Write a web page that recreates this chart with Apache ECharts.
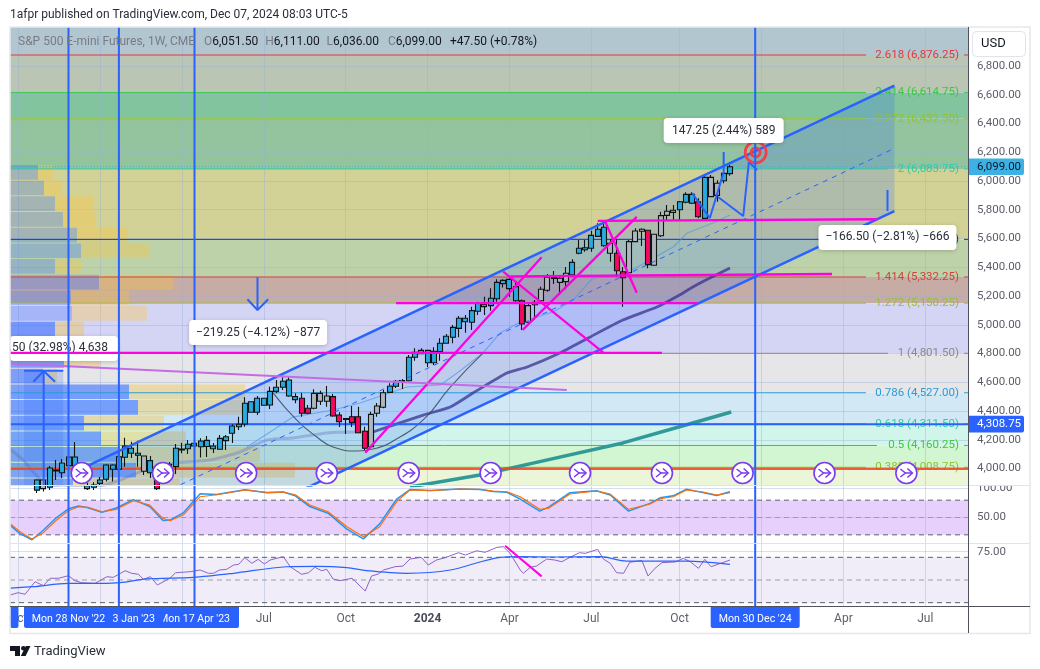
<!DOCTYPE html>
<html>
<head>
<meta charset="utf-8">
<title>S&amp;P 500 E-mini Futures, 1W</title>
<script src="https://cdn.jsdelivr.net/npm/echarts@6/dist/echarts.min.js"></script>
<style>
  html, body { margin: 0; padding: 0; background: #fff; overflow: hidden; }
  #chart { width: 1040px; height: 669px; }
</style>
</head>
<body>
<div id="chart"></div>
<script>
// Weekly candles: [week, open, close, low, high]. Week 0 is Mon 3 Oct 2022
const candles = [
  [3,3850,3920,3830,3925],[4,3860,3920,3840,3925],[5,3870,4004,3850,4018],[6,3983,3990,3920,4059],
  [7,3971,4038,3934,4066],[8,4020,4080,3990,4115],[9,4018,4080,3976,4185],[10,4020,3950,3930,4040],
  [11,3860,3880,3850,3900],[12,3870,3885,3850,3905],[13,3897,3920,3885,3941],[14,3925,4025,3909,4030],
  [15,3995,4025,3909,4030],[16,3995,4082,3983,4117],[17,4078,4157,4013,4214],[18,4106,4141,4073,4187],
  [19,4092,4106,4013,4194],[20,3981,4087,3955,4090],[21,3971,4055,3934,4087],[22,3920,3860,3850,3930],
  [23,3910,3980,3900,4000],[24,3960,4030,3950,4045],[25,4013,4141,3962,4171],[26,4130,4136,4106,4180],
  [27,4138,4169,4101,4199],[28,4157,4176,4082,4203],[29,4152,4191,4077,4210],[30,4153,4196,4080,4226],
  [31,4138,4157,4108,4178],[32,4134,4210,4130,4233],[33,4194,4221,4129,4233],[34,4245,4296,4178,4308],
  [35,4291,4308,4268,4360],[36,4310,4454,4291,4496],[37,4391,4465,4389,4467],[38,4391,4489,4372,4505],
  [39,4440,4489,4436,4493],[40,4442,4537,4414,4569],[41,4537,4565,4523,4616],[42,4565,4607,4546,4635],
  [43,4504,4616,4500,4637],[44,4479,4500,4454,4523],[45,4489,4384,4360,4527],[46,4419,4384,4378,4442],
  [47,4419,4523,4412,4551],[48,4468,4523,4442,4541],[49,4468,4505,4430,4574],[50,4500,4365,4360,4518],
  [51,4372,4326,4289,4391],[52,4342,4348,4240,4352],[53,4360,4319,4289,4435],[54,4360,4249,4245,4430],
  [55,4259,4141,4129,4291],[56,4152,4377,4141,4395],[57,4384,4435,4360,4456],[58,4426,4527,4420,4546],
  [59,4530,4572,4525,4593],[60,4572,4607,4560,4616],[61,4605,4612,4553,4623],[62,4611,4774,4605,4790],
  [63,4774,4809,4750,4836],[64,4799,4822,4795,4836],[65,4736,4822,4706,4825],[66,4736,4815,4720,4843],
  [67,4813,4871,4750,4906],[68,4871,4920,4868,4936],[69,4913,4982,4871,4998],[70,4975,5045,4913,5061],
  [71,5021,5045,4945,5068],[72,5017,5098,4964,5126],[73,5094,5149,5068,5160],[74,5126,5142,5068,5195],
  [75,5133,5184,5098,5254],[76,5181,5295,5160,5316],[77,5286,5309,5260,5316],[78,5251,5316,5195,5323],
  [79,5167,5265,5160,5300],[80,5167,5005,4964,5175],[81,5017,5133,5005,5144],[82,5139,5156,5038,5172],
  [83,5167,5247,5160,5265],[84,5240,5330,5230,5353],[85,5322,5328,5283,5374],[86,5295,5323,5207,5330],
  [87,5300,5358,5247,5402],[88,5348,5434,5332,5455],[89,5497,5532,5490,5590],[90,5522,5536,5508,5590],
  [91,5532,5622,5508,5654],[92,5615,5664,5610,5706],[93,5550,5678,5543,5717],[94,5497,5566,5439,5594],
  [95,5497,5376,5334,5594],[96,5369,5327,5126,5400],[97,5362,5578,5355,5590],[98,5578,5652,5575,5671],
  [99,5650,5664,5548,5671],[100,5657,5418,5393,5660],[101,5414,5629,5410,5632],[102,5619,5759,5610,5786],
  [103,5761,5789,5729,5833],[104,5782,5796,5729,5833],[105,5800,5856,5729,5860],[106,5852,5907,5845,5921],
  [107,5845,5907,5840,5921],[108,5856,5751,5740,5880],[109,5740,6025,5735,6042],[110,5891,6025,5888,6042],
  [111,5900,5984,5856,6005],[112,6002,6053,5984,6065],[113,6051.5,6099,6036,6111]
];
const greyWeeks = [4,20,47,48,49,56,57,58,81,82,83,84,85,86,87,94,97,98,99,101,102,103,104,110,111];

// Fibonacci levels, top to bottom
const fibNames = ['2.618','2.414','2.272','2','1.618','1.414','1.272','1','0.786','0.618','0.5','0.382'];
const fibPrices = [6876.25,6614.75,6432.5,6083.75,5593.75,5332.25,5150.25,4801.5,4527,4311.5,4160.25,4008.75];
const fibColors = ['#e5373b','#3bc93f','#94c22e','#2ccda4','#2233bb','#d04040','#94c22e','#8a8a8a','#2a9bd8','#2ccda4','#3bc93f','#94c22e'];
const bandColors = ['rgb(178,198,208)','rgb(186,197,180)','rgb(130,196,158)','rgb(148,196,158)','rgb(210,210,150)',
  'rgb(190,210,170)','rgb(198,172,165)','rgb(212,212,245)','rgb(230,230,232)','rgb(210,232,245)','rgb(210,245,235)',
  'rgb(210,245,210)','rgb(235,245,215)'];

const priceTicks = [4000,4200,4400,4600,4800,5000,5200,5400,5600,5800,6000,6200,6400,6600,6800];
const timeWeeks = [0,13,26,39,52,65,78,91,105,118,131,144];
const timeLabels = ['Oct','Jan','Apr','Jul','Oct','2024','Apr','Jul','Oct','2025','Apr','Jul'];

// Volume profile rows from the top: [up, down]
const vpStart = 6111;
const vpStep = 109;
const vpRows = [[28,15],[34,18],[45,39],[53,33],[67,51],[71,69],[45,26],[89,74],[61,58],[62,75],[45,29],
  [40,30],[54,36],[33,14],[119,116],[128,107],[74,80],[91,85],[110,140],[126,159],[63,107]];

// Moving averages and the cup curve: [week, price]
const maSlowEarly = [[-1.3,4136],[0.8,4059],[2.4,3976],[4,3906],[6.7,3865],[13,3879],[16.2,3920],[20.1,3990],[25.2,4039],
  [30.5,4059],[35.2,4115],[39.5,4198],[43.6,4212],[49,4247],[53.8,4254],[56.3,4254]];
const maSlowLate = [[56.3,4254],[64.3,4372],[68.6,4428],[72.2,4525],[77.6,4664],[80.8,4706],[86,4803],[90.8,4915],[96,5033],
  [101.4,5123],[105,5207],[107.1,5263],[109.8,5325],[113,5395]];
const ma200 = [[62.2,3872],[73.3,3955],[82.8,4048],[96,4178],[105,4291],[113.2,4393]];
const maFast = [[36.3,4150],[40.5,4268],[43.6,4358],[50,4407],[54.3,4456],[61.7,4567],[67,4581],[69.7,4664],[73.8,4803],
  [76.5,4943],[79.7,5019],[84.9,5089],[88.1,5172],[91.2,5325],[96.6,5360],[100.3,5450],[104,5541],[106.2,5638],[110.3,5708],[113,5763]];
const cupCurve = [[40.5,4525],[44.2,4338],[47.4,4219],[50,4150],[53.8,4122],[57,4143],[59,4178],[64.3,4338],[68.6,4567],[73.8,4803]];

// Parallel channel
const channelUpper = [[10,3997],[139.1,6663]];
const channelMiddle = [[10,3562],[139.1,6227]];
const channelLower = [[10,3127],[139.1,5791]];

// Hand drawn lines on the chart: [week, price]
const magentaLines = [
  [[-1.3,4805],[102.2,4805]],[[60,5151],[107.9,5151]],[[78.1,5336],[129.2,5353]],[[92,5722],[136.3,5734]],
  [[55.1,4110],[83.1,5469]],[[80.1,4964],[98.2,5750]],[[77,5369],[92.9,4806]],[[93.2,5717],[98.2,5223]]
];
const purpleLine = [[-1.3,4731],[87.1,4546]];
const forecastA = [[107,5916],[109.8,5742],[112,6062],[112,6202]];
const forecastB = [[111.1,5889],[115.1,5756],[116,6132],[117.3,6076]];
const tickMark = [[138,5937],[138,5791]];
const downArrow = [[[38,5330],[38,5103]],[[36.4,5177],[38,5103],[39.7,5177]]];
const upArrow = [[[4.06,3882],[4.06,4678]],[[2.41,4604],[4.06,4678],[5.86,4604]],[[0.94,4680],[7.17,4680]]];
const rangeBox = [0.94,7.17,3882,4680];
const target = [117.08,6199.5];

const vLineWeeks = [8,16,28,117];
const tagWeeks = [-7,28,16,8,117];
const tagTexts = ['',"Mon 17 Apr '23","Mon 23 Jan '23","Mon 28 Nov '22","Mon 30 Dec '24"];
const iconWeeks = [10.1,23,36.2,49,62,75,89.2,102.2,115,128,141];
const iconPrice = 3969;

const calloutTexts = ['147.25 (2.44%) 589','\u2212166.50 (\u22122.81%) \u2212666','\u2212219.25 (\u22124.12%) \u2212877','.50 (32.98%) 4,638'];
const calloutPlaces = [[112,6351,120],[138,5607,138],[38.1,4946,138],[7.3,4835,108]];

const lastClose = 6099;
const crossPrice = 4308.75;
const redLevel = 3999;

// Stochastic: [week, %K, %D]
const stochRows = [[-1.2,36,38.8],[0.3,22,25.4],[2.2,11.5,12.8],[4,28,23.7],[6.1,50,45.7],[8,65,61.8],[9.6,70,68.7],
  [11.1,67,67.6],[13.3,59,60],[15.6,66.5,64.1],[18.3,81,79],[20.9,69,71.6],[23,45,48.6],[24.1,45.5,44.5],[26.2,58,54.3],
  [28.9,91,86],[31.5,90,89.4],[36,98,97.6],[39.5,93,93.5],[42.1,94,94],[44,87.5,89.4],[46.3,69,71.6],[49.2,57.5,60],
  [52.2,30,34],[54.8,13,16.8],[57.4,39,34],[60.1,82,77.4],[62.2,98.5,97.6],[65.4,96.8,96.4],[70.1,99.5,99.3],[73.3,98.4,98.8],
  [75.4,95.2,95.8],[77.6,93.5,94.6],[79.7,82,86],[82.8,61,64.2],[84.2,68,65.9],[87.6,93,90.6],[91.8,96.2,95.8],[94,89,90.6],
  [96.9,61,64.2],[100.3,74.5,73.4],[101.9,84,82.5],[104,87.5,86],[106.1,99,97.6],[108.5,93.5,94.6],[110.9,88,88.9],[113,94.5,92.9]];

// RSI and its moving average: [week, value]
const rsiLine = [[-1.2,36.8],[0,38.8],[1.1,37.4],[2.7,48.5],[4,45],[5.1,51.5],[6.4,51.5],[8,53.8],[9,49.4],[10.1,47.6],[12.2,47],
  [14.1,52.9],[15.1,52.3],[17,58.2],[18,55.9],[19.1,55],[19.9,50.6],[21,52.9],[22.1,45.6],[24.1,51.5],[25,56.4],[27.3,57.3],
  [28.9,58.8],[30.2,55.9],[31,55.9],[32,58.8],[33.1,59.4],[34.2,63.2],[35,63.8],[36,69.7],[37.1,64.7],[38.1,68.2],[39.1,64.1],
  [40,67.6],[42.1,70.6],[43.2,61.7],[45,55],[46.1,56.4],[47.1,61.2],[48.2,58.2],[49,59.4],[50,50.9],[51.1,49.4],[53,51.5],
  [55.1,40.3],[56.1,53.5],[57.2,55.3],[58,58.8],[59.8,61.7],[61.1,62.3],[62.2,68.5],[64,70],[65.1,63.2],[66.4,67.6],[67.8,69.7],
  [69.9,74.1],[71,72],[72.8,75.8],[74.1,74.4],[76,78.8],[77,79.4],[78.1,73.5],[79.7,58.8],[80.2,55.9],[81.3,61.2],[82.3,62.3],
  [83.9,68.5],[85.2,67.6],[86.3,66.1],[87.6,70],[89.1,74.1],[90,73.5],[92,77],[92.9,68.5],[94,64.7],[95,56.4],[96.1,55.9],
  [97.1,65.6],[99,67.3],[100,53.5],[101.1,60.3],[102.2,65.3],[104.3,65.9],[105.6,69.1],[106.7,66.1],[108,60.3],[109,68.2],
  [110,61.7],[111.2,64.1],[113,67.6]];
const rsiMa = [[-1.2,42.9],[2.4,44.1],[8,47],[13,47],[16.2,47.6],[20.4,50.9],[27.8,52.3],[34.2,55.9],[42.6,61.7],[47.4,62],
  [52.2,60.9],[55.3,58.2],[61.7,55.9],[68.6,58.8],[76.5,70],[79.7,70.6],[85,70.3],[92.4,70.6],[96.6,66.7],[106.1,66.7],[113,63.8]];
const rsiTrend = [[77.3,80.2],[83.1,53.2]];

const headerSymbol = 'S&P 500 E-mini Futures, 1W, CME';
const headerNames = ['O','H','L','C'];
const headerValues = ['6,051.50','6,111.00','6,036.00','6,099.00'];
const headerChange = '+47.50 (+0.78%)';

const FONT = 'Roboto, sans-serif';
const BLUE = '#2962ff';
const WEEK_MIN = -1.286;
const WEEK_MAX = 150.78;
const PRICE_MIN = 3882;
const PRICE_MAX = 7071;

function money(v) {
  return v.toLocaleString('en-US', { minimumFractionDigits: 2, maximumFractionDigits: 2 });
}

function lineSeries(points, color, width, opts) {
  return Object.assign({
    type: 'line', data: points, showSymbol: false, symbol: 'none', animation: false, silent: true,
    xAxisIndex: 0, yAxisIndex: 0, z: 6,
    lineStyle: { color: color, width: width }
  }, opts || {});
}

function customSeries(items, renderItem, z, opts) {
  return Object.assign({
    type: 'custom', coordinateSystem: 'cartesian2d', data: items, renderItem: renderItem,
    xAxisIndex: 0, yAxisIndex: 0, z: z, animation: false, silent: true, clip: true
  }, opts || {});
}

function candleItems() {
  return candles.map(row => {
    let fill = '#29a9e0';
    if (row[2] < row[1]) fill = '#f7075f';
    else if (greyWeeks.indexOf(row[0]) >= 0) fill = '#b2b5be';
    return {
      value: row,
      itemStyle: { color: fill, color0: fill, borderColor: '#0d1512', borderColor0: '#0d1512', borderWidth: 1.1 }
    };
  });
}

const series = [];

// Coloured bands between the fib levels
const bandEdges = [PRICE_MAX].concat(fibPrices, [PRICE_MIN]);
series.push(customSeries(bandColors, (params, api) => {
  const i = params.dataIndex;
  const a = api.coord([WEEK_MIN, bandEdges[i]]);
  const b = api.coord([WEEK_MAX, bandEdges[i + 1]]);
  return { type: 'rect', shape: { x: a[0], y: a[1], width: b[0] - a[0], height: b[1] - a[1] }, style: { fill: bandColors[i] } };
}, 1));

// Volume profile, x is read on its own hidden axis
series.push(customSeries(vpRows, (params, api) => {
  const i = params.dataIndex;
  const top = vpStart - i * vpStep;
  const strong = i >= 10;
  const a0 = api.coord([0, top]);
  const a1 = api.coord([vpRows[i][0], top - vpStep]);
  const a2 = api.coord([vpRows[i][0] + vpRows[i][1], top - vpStep]);
  const h = a1[1] - a0[1] - 1;
  return { type: 'group', children: [
    { type: 'rect', shape: { x: a0[0], y: a0[1], width: a1[0] - a0[0], height: h }, style: { fill: strong ? 'rgba(41,98,255,0.55)' : 'rgba(41,98,255,0.27)' } },
    { type: 'rect', shape: { x: a1[0], y: a0[1], width: a2[0] - a1[0], height: h }, style: { fill: strong ? 'rgba(245,195,60,0.38)' : 'rgba(255,195,50,0.32)' } }
  ] };
}, 2, { xAxisIndex: 3 }));

// Channel fill and range box
series.push(customSeries([0], (params, api) => {
  const pts = [channelUpper[0], channelUpper[1], channelLower[1], channelLower[0]].map(p => api.coord(p));
  return { type: 'polygon', shape: { points: pts }, style: { fill: 'rgba(41,98,255,0.2)' } };
}, 3));
series.push(customSeries([0], (params, api) => {
  const a = api.coord([rangeBox[0], rangeBox[3]]);
  const b = api.coord([rangeBox[1], rangeBox[2]]);
  return { type: 'rect', shape: { x: a[0], y: a[1], width: b[0] - a[0], height: b[1] - a[1] }, style: { fill: 'rgba(41,98,255,0.2)' } };
}, 3));

// Fib lines, broken where the label sits
series.push(customSeries(fibPrices, (params, api) => {
  const i = params.dataIndex;
  const y = api.coord([0, fibPrices[i]])[1];
  const area = params.coordSys;
  const right = area.x + area.width;
  const label = fibNames[i] + ' (' + money(fibPrices[i]) + ')';
  const textEnd = right - 9;
  const textStart = textEnd - label.length * 5.5;
  const stroke = { stroke: fibColors[i], lineWidth: 1 };
  return { type: 'group', children: [
    { type: 'line', shape: { x1: area.x, y1: y, x2: textStart - 5, y2: y }, style: stroke },
    { type: 'line', shape: { x1: textEnd + 5, y1: y, x2: right, y2: y }, style: stroke },
    { type: 'text', style: { text: label, x: textEnd, y: y, textAlign: 'right', textVerticalAlign: 'middle', fill: fibColors[i], font: '11.5px ' + FONT } }
  ] };
}, 4));

// Moving averages
series.push(lineSeries(maSlowEarly, 'rgba(90,100,190,0.32)', 3, { z: 4, smooth: 0.2 }));
series.push(lineSeries(maSlowLate, 'rgba(50,45,140,0.72)', 2.8, { z: 4, smooth: 0.2 }));
series.push(lineSeries(ma200, '#2f9a98', 3.5, { z: 4 }));
series.push(lineSeries(maFast, 'rgba(75,150,230,0.65)', 1.2, { z: 4 }));
series.push(lineSeries(cupCurve, 'rgba(55,70,95,0.85)', 1.1, { z: 4, smooth: 0.5 }));

// Horizontal levels
series.push(lineSeries([[WEEK_MIN, redLevel], [WEEK_MAX, redLevel]], 'rgba(244,67,30,0.85)', 2.5, { z: 4 }));
series.push(lineSeries([[WEEK_MIN, crossPrice], [WEEK_MAX, crossPrice]], BLUE, 2, { z: 5 }));
series.push(lineSeries([[WEEK_MIN, lastClose], [WEEK_MAX, lastClose]], '#29a9e0', 1, { z: 4, lineStyle: { color: 'rgba(41,169,224,0.75)', width: 1, type: [1, 2] } }));

// Candles
series.push({
  type: 'candlestick', data: candleItems(), xAxisIndex: 0, yAxisIndex: 0, barWidth: 5.5, layout: 'horizontal',
  z: 5, animation: false, silent: true
});

// The clipped callout at the far left sits under the magenta level line
function calloutItem(params, api, i) {
  const place = calloutPlaces[i];
  const c = api.coord([place[0], place[1]]);
  const w = place[2];
  const clipped = i === 3;
  return { type: 'group', children: [
    { type: 'rect', shape: { x: c[0] - w / 2, y: c[1] - 12.5, width: w, height: 25, r: 4 },
      style: { fill: '#fff', shadowBlur: 4, shadowColor: 'rgba(0,0,0,0.2)', shadowOffsetY: 1 } },
    { type: 'text', style: { text: calloutTexts[i], x: clipped ? c[0] + w / 2 - 10 : c[0], y: c[1], fill: '#2a2e39',
      textAlign: clipped ? 'right' : 'center', textVerticalAlign: 'middle', font: '12px ' + FONT } }
  ] };
}
series.push(customSeries([3], (params, api) => calloutItem(params, api, 3), 5.5));

// Channel lines
series.push(lineSeries(channelUpper, BLUE, 2.5));
series.push(lineSeries(channelLower, BLUE, 2.5));
series.push(lineSeries(channelMiddle, BLUE, 1, { lineStyle: { color: BLUE, width: 1, type: [5, 5] } }));

// Drawings
magentaLines.forEach(pts => series.push(lineSeries(pts, '#ff00e0', 2.3)));
series.push(lineSeries(purpleLine, '#c56be8', 2));
series.push(lineSeries(forecastA, BLUE, 2));
series.push(lineSeries(forecastB, BLUE, 2));
series.push(lineSeries(tickMark, BLUE, 2));
downArrow.forEach(pts => series.push(lineSeries(pts, BLUE, 2)));
upArrow.forEach(pts => series.push(lineSeries(pts, BLUE, 2)));

// Target rings
series.push(customSeries([0], (params, api) => {
  const c = api.coord(target);
  const ring = { fill: 'none', stroke: '#f0404a', lineWidth: 2.8 };
  return { type: 'group', children: [
    { type: 'circle', shape: { cx: c[0], cy: c[1], r: 10.5 }, style: ring },
    { type: 'circle', shape: { cx: c[0], cy: c[1], r: 4.5 }, style: ring }
  ] };
}, 7));

// Vertical lines in all three panes
[0, 1, 2].forEach(pane => {
  series.push(customSeries(vLineWeeks, (params, api) => {
    const x = api.coord([vLineWeeks[params.dataIndex], pane === 0 ? 5000 : 50])[0];
    const area = params.coordSys;
    return { type: 'line', shape: { x1: x, y1: area.y, x2: x, y2: area.y + area.height }, style: { stroke: BLUE, lineWidth: 2 } };
  }, 7, { xAxisIndex: pane, yAxisIndex: pane }));
});

// Round event icons over the bottom of the chart
series.push(customSeries(iconWeeks, (params, api) => {
  const c = api.coord([iconWeeks[params.dataIndex], iconPrice]);
  const x = c[0], y = c[1];
  const glyph = { fill: 'none', stroke: '#7c3aed', lineWidth: 1.5 };
  return { type: 'group', children: [
    { type: 'circle', shape: { cx: x, cy: y, r: 10.5 }, style: { fill: '#fff', stroke: '#7c3aed', lineWidth: 1.6 } },
    { type: 'polyline', shape: { points: [[x - 6, y - 4], [x - 1, y], [x - 6, y + 4]] }, style: glyph },
    { type: 'polyline', shape: { points: [[x + 1, y - 4.5], [x + 6, y], [x + 1, y + 4.5]] }, style: glyph },
    { type: 'line', shape: { x1: x - 1, y1: y, x2: x + 6, y2: y }, style: glyph }
  ] };
}, 8, { clip: false }));

// White callouts
series.push(customSeries([0, 1, 2], (params, api) => calloutItem(params, api, params.dataIndex), 9));

// Price tags on the right axis
series.push(customSeries([lastClose, crossPrice], (params, api) => {
  const i = params.dataIndex;
  const price = i === 0 ? lastClose : crossPrice;
  const y = api.coord([0, price])[1];
  const area = params.coordSys;
  const x = area.x + area.width + 1;
  return { type: 'group', children: [
    { type: 'rect', shape: { x: x, y: y - 8.3, width: 55, height: 16.6, r: [0, 2, 2, 0] }, style: { fill: i === 0 ? '#3bb1e6' : BLUE } },
    { type: 'text', style: { text: money(price), x: x + 8, y: y, fill: i === 0 ? '#131722' : '#fff', textAlign: 'left', textVerticalAlign: 'middle', font: '11.5px ' + FONT } }
  ] };
}, 10, { clip: false }));

// Stochastic pane
series.push(customSeries([0], (params, api) => {
  const a = api.coord([WEEK_MIN, 80]);
  const b = api.coord([WEEK_MAX, 20]);
  return { type: 'rect', shape: { x: a[0], y: a[1], width: b[0] - a[0], height: b[1] - a[1] }, style: { fill: 'rgb(232,208,252)' } };
}, 1, { xAxisIndex: 1, yAxisIndex: 1 }));
[80, 50, 20].forEach((level, i) => {
  series.push(lineSeries([[WEEK_MIN, level], [WEEK_MAX, level]], '#787b86', 1, {
    xAxisIndex: 1, yAxisIndex: 1, z: 3, lineStyle: { color: i === 1 ? '#9a9ca6' : '#5d606b', width: 1, type: [5, 4] }
  }));
});
series.push(lineSeries(stochRows.map(r => [r[0], r[1]]), '#2196f3', 1.5, { xAxisIndex: 1, yAxisIndex: 1, z: 4 }));
series.push(lineSeries(stochRows.map(r => [r[0], r[2]]), '#ff6d00', 1.1, { xAxisIndex: 1, yAxisIndex: 1, z: 4 }));

// RSI pane
series.push(customSeries([0], (params, api) => {
  const a = api.coord([WEEK_MIN, 70]);
  const b = api.coord([WEEK_MAX, 30]);
  return { type: 'rect', shape: { x: a[0], y: a[1], width: b[0] - a[0], height: b[1] - a[1] }, style: { fill: 'rgb(240,236,248)' } };
}, 1, { xAxisIndex: 2, yAxisIndex: 2 }));
[70, 50, 30].forEach((level, i) => {
  series.push(lineSeries([[WEEK_MIN, level], [WEEK_MAX, level]], '#787b86', 1, {
    xAxisIndex: 2, yAxisIndex: 2, z: 3, lineStyle: { color: i === 1 ? '#9a9ca6' : '#5d606b', width: 1, type: [5, 4] }
  }));
});
series.push(lineSeries(rsiLine, '#8e63c8', 1, { xAxisIndex: 2, yAxisIndex: 2, z: 4 }));
series.push(lineSeries(rsiMa, BLUE, 1.2, { xAxisIndex: 2, yAxisIndex: 2, z: 4, smooth: 0.3 }));
series.push(lineSeries(rsiTrend, '#ff00e0', 2, { xAxisIndex: 2, yAxisIndex: 2, z: 6 }));

// Blue date tags on the time axis
series.push(customSeries(tagWeeks, (params, api) => {
  const i = params.dataIndex;
  const area = params.coordSys;
  const cx = api.coord([tagWeeks[i], 50])[0];
  const left = Math.max(cx - 44.5, area.x);
  const right = cx + 44.5;
  const top = area.y + area.height;
  return { type: 'group', children: [
    { type: 'rect', shape: { x: left, y: top, width: right - left, height: 21.5, r: [0, 0, 2, 2] }, style: { fill: BLUE } },
    { type: 'text', style: { text: tagTexts[i], x: cx, y: top + 12.5, fill: '#fff', textAlign: 'center', textVerticalAlign: 'middle', font: '10.6px ' + FONT } }
  ] };
}, 10, { xAxisIndex: 2, yAxisIndex: 2, clip: false }));

function weekAxis(gridIndex, showLabels) {
  return {
    type: 'value', gridIndex: gridIndex, min: WEEK_MIN, max: WEEK_MAX, z: 1.5,
    axisLine: { show: false },
    axisTick: { show: false, customValues: timeWeeks },
    splitLine: { show: true, lineStyle: { color: 'rgba(150,175,215,0.4)', width: 1 } },
    axisLabel: {
      show: showLabels, customValues: timeWeeks, margin: 6, color: '#5d606b', fontFamily: FONT, fontSize: 12,
      hideOverlap: false, showMinLabel: true, showMaxLabel: true,
      formatter: v => {
        const text = timeLabels[timeWeeks.indexOf(v)] || '';
        return text === '2024' || text === '2025' ? '{b|' + text + '}' : text;
      },
      rich: { b: { fontWeight: 'bold', color: '#4a4d57', fontFamily: FONT, fontSize: 12 } }
    }
  };
}

function valueAxis(gridIndex, min, max, ticks) {
  return {
    type: 'value', gridIndex: gridIndex, position: 'right', min: min, max: max, z: 1.5,
    axisLine: { show: false },
    axisTick: { show: false, customValues: ticks },
    splitLine: { show: true, lineStyle: { color: 'rgba(150,175,215,0.4)', width: 1 } },
    axisLabel: { customValues: ticks, margin: 9, color: '#5d606b', fontFamily: FONT, fontSize: 11.5, formatter: v => money(v) }
  };
}

const chart = echarts.init(document.getElementById('chart'), null, { renderer: 'canvas' });
chart.setOption({
  backgroundColor: '#fff',
  animation: false,
  grid: [
    { left: 10, right: 72, top: 27, height: 458.5 },
    { left: 10, right: 72, top: 485.5, height: 58 },
    { left: 10, right: 72, top: 543.5, height: 63 }
  ],
  xAxis: [
    weekAxis(0, false), weekAxis(1, false), weekAxis(2, true),
    { type: 'value', gridIndex: 0, min: 0, max: 958, show: false }
  ],
  yAxis: [
    valueAxis(0, PRICE_MIN, PRICE_MAX, priceTicks),
    valueAxis(1, 5, 105.4, [50, 100]),
    valueAxis(2, 26.6, 82.2, [75])
  ],
  series: series,
  graphic: { elements: [
    { type: 'rect', silent: true, z: 20, shape: { x: 969, y: 478, width: 60, height: 7.5 }, style: { fill: '#fff' } },
    { type: 'rect', silent: true, z: 20, shape: { x: 10, y: 27, width: 1020, height: 606.5 }, style: { fill: 'none', stroke: '#e6e8ef', lineWidth: 1.6 } },
    { type: 'line', silent: true, z: 20, shape: { x1: 10, y1: 485.5, x2: 1030, y2: 485.5 }, style: { stroke: '#e0e3eb', lineWidth: 1 } },
    { type: 'line', silent: true, z: 20, shape: { x1: 10, y1: 543.5, x2: 1030, y2: 543.5 }, style: { stroke: '#e0e3eb', lineWidth: 1 } },
    { type: 'line', silent: true, z: 20, shape: { x1: 968.5, y1: 27, x2: 968.5, y2: 633 }, style: { stroke: '#50535e', lineWidth: 1 } },
    { type: 'line', silent: true, z: 20, shape: { x1: 10, y1: 606.5, x2: 1030, y2: 606.5 }, style: { stroke: '#50535e', lineWidth: 1 } },
    { type: 'rect', silent: true, z: 20, shape: { x: 972.5, y: 31.5, width: 53, height: 25, r: 4 }, style: { fill: '#fff', stroke: '#e0e3eb', lineWidth: 1 } },
    { type: 'text', silent: true, z: 21, style: { text: 'USD', x: 981, y: 44, fill: '#131722', textVerticalAlign: 'middle', font: '13px ' + FONT } },
    { type: 'text', silent: true, z: 21, style: { text: '1afpr published on TradingView.com, Dec 07, 2024 08:03 UTC-5', x: 10, y: 14.5, fill: '#2a2e39', textVerticalAlign: 'middle', font: '12px ' + FONT } },
    { type: 'text', silent: true, z: 21, style: { text: headerSymbol, x: 18, y: 41.5, fill: '#787b86', textVerticalAlign: 'middle', font: '12px ' + FONT } }
  ].concat(headerNames.map((name, i) => ({
    type: 'text', silent: true, z: 21,
    style: { text: '{g|' + name + '}{d|' + headerValues[i] + '}', x: 204 + i * 61.3, y: 41.5, textVerticalAlign: 'middle',
      rich: { g: { fill: '#787b86', font: '12px ' + FONT }, d: { fill: '#131722', font: '12px ' + FONT } } }
  })), [
    { type: 'text', silent: true, z: 21, style: { text: headerChange, x: 450, y: 41.5, fill: '#131722', textVerticalAlign: 'middle', font: '12px ' + FONT } },
    // TradingView mark
    { type: 'polygon', silent: true, z: 21, shape: { points: [[10, 646], [20, 646], [20, 656], [15, 656], [15, 651], [10, 651]] }, style: { fill: '#131722' } },
    { type: 'circle', silent: true, z: 21, shape: { cx: 23.3, cy: 648.3, r: 2.3 }, style: { fill: '#131722' } },
    { type: 'polygon', silent: true, z: 21, shape: { points: [[25.8, 646], [30.5, 646], [25.6, 656], [20.8, 656]] }, style: { fill: '#131722' } },
    { type: 'text', silent: true, z: 21, style: { text: 'TradingView', x: 34, y: 651.5, fill: '#2a2e39', textVerticalAlign: 'middle', font: '13px ' + FONT } }
  ]) }
});
window.addEventListener('resize', chart.resize);
</script>
</body>
</html>
